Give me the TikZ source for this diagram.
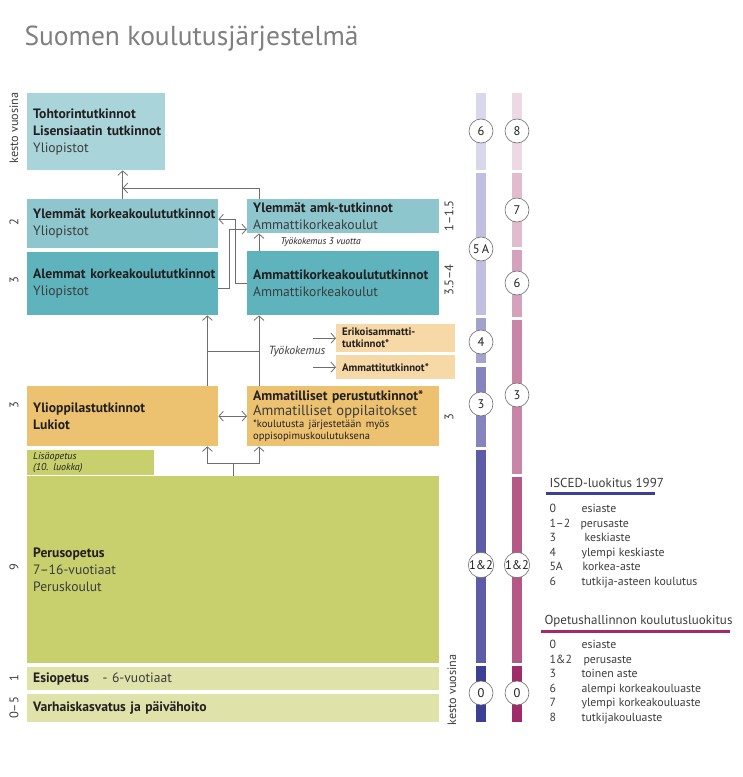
\documentclass[tikz,border=0pt]{standalone}
\usepackage{fontspec}
\setmainfont{PT Sans}
\usetikzlibrary{arrows.meta}
\definecolor{ink}{HTML}{231F20}
\definecolor{inksoft}{HTML}{3C3C3C}
\definecolor{titlegray}{HTML}{7F7F7F}
\definecolor{wire}{HTML}{6E6E6E}
\definecolor{tealL}{HTML}{A9D5DA}
\definecolor{tealM}{HTML}{8DC6CD}
\definecolor{tealD}{HTML}{5EB3BD}
\definecolor{ochreL}{HTML}{F6D9A6}
\definecolor{ochreD}{HTML}{ECC271}
\definecolor{leaf}{HTML}{C8D06E}
\definecolor{leafL}{HTML}{DFE3AA}
\definecolor{isA}{HTML}{D8D7EC}
\definecolor{isB}{HTML}{C0BFDF}
\definecolor{isC}{HTML}{A3A2CD}
\definecolor{isD}{HTML}{8684BE}
\definecolor{isE}{HTML}{5C5CA9}
\definecolor{isF}{HTML}{3B3F96}
\definecolor{opA}{HTML}{EED8E3}
\definecolor{opB}{HTML}{E0BCCD}
\definecolor{opC}{HTML}{D5A2BD}
\definecolor{opD}{HTML}{C885A8}
\definecolor{opE}{HTML}{B55888}
\definecolor{opF}{HTML}{9F2B6B}
\newcommand\bx{\fontsize{13.6}{17}\selectfont}
\newcommand\sm{\fontsize{10.8}{12}\selectfont}
\newcommand\boxhead[1]{\mbox{\bfseries #1}}

\begin{document}
\begin{tikzpicture}[x=1pt,y=-1pt]
        \useasboundingbox (0,0) rectangle (743,777);
        \tikzset{edubox/.style={anchor=north west, inner xsep=6pt, inner ysep=0pt, align=left, text=ink, font=\bx},
                 lvl/.style={circle, draw=wire, fill=white, line width=0.6pt, minimum size=24pt, inner sep=0pt, font=\fontsize{12.5}{12.5}\selectfont, text=ink},
                 dur/.style={rotate=90, font=\fontsize{12.5}{12.5}\selectfont, text=inksoft},
                 arr/.style={draw=wire, line width=0.8pt, -{Straight Barb[length=4.5pt,width=10pt]}},
                 arrs/.style={draw=wire, line width=0.8pt, {Straight Barb[length=4.5pt,width=10pt]}-{Straight Barb[length=4.5pt,width=10pt]}},
                 wireline/.style={draw=wire, line width=0.8pt},
                 key/.style={anchor=base west, font=\fontsize{11.8}{11.8}\selectfont, text=inksoft}}
        %
        \draw (21,45) node[anchor=base west, font=\fontsize{27.5}{27.5}\selectfont, text=titlegray](title){Suomen koulutusjärjestelmä};
        %
        \draw (27,93) node[edubox, fill=tealL, text width=126pt, minimum height=77pt](T){\boxhead{Tohtorintutkinnot}\\\boxhead{Lisensiaatin tutkinnot}\\{\color{inksoft}Yliopistot}};
        \draw (27,199) node[edubox, fill=tealM, text width=179pt, minimum height=49pt](YK){\boxhead{Ylemmät korkeakoulututkinnot}\\{\color{inksoft}Yliopistot}};
        \draw (27,252) node[edubox, fill=tealD, text width=179pt, minimum height=63pt](L){\boxhead{Alemmat korkeakoulututkinnot}\\{\color{inksoft}Yliopistot}};
        \draw (247,199) node[edubox, fill=tealM, text width=180pt, minimum height=34pt](YA){\boxhead{Ylemmät amk-tutkinnot}\\{\color{inksoft}Ammattikorkeakoulut}};
        \draw (247,251) node[edubox, fill=tealD, text width=180pt, minimum height=64pt](A){\boxhead{Ammattikorkeakoulututkinnot}\\{\color{inksoft}Ammattikorkeakoulut}};
        \draw (336,324) node[edubox, fill=ochreL, text width=107pt, minimum height=28pt, font=\sm](E){\boxhead{Erikoisammatti-}\\\boxhead{tutkinnot*}};
        \draw (336,355) node[edubox, fill=ochreL, text width=107pt, minimum height=24pt, font=\sm](M){\boxhead{Ammattitutkinnot*}};
        \draw (27,386) node[edubox, fill=ochreD, text width=179pt, minimum height=60pt](Y){\boxhead{Ylioppilastutkinnot}\\\boxhead{Lukiot}};
        \draw (247,386) node[edubox, fill=ochreD, text width=180pt, minimum height=60pt](AP){{\fontsize{13.6}{15}\selectfont\boxhead{Ammatilliset perustutkinnot*}\\{\color{inksoft}\fontsize{14.5}{16}\selectfont\mbox{Ammatilliset oppilaitokset}}\par}{\fontsize{10.5}{12}\selectfont\mbox{*koulutusta järjestetään myös}\\oppisopimuskoulutuksena\par}};
        \draw (27,450) node[edubox, fill=leaf, text width=115pt, minimum height=25pt, font=\fontsize{10}{10.5}\selectfont\itshape](LO){Lisäopetus\\(10. luokka)};
        \draw (27,476) node[edubox, fill=leaf, text width=400pt, minimum height=187pt](P){\boxhead{Perusopetus}\\{\color{inksoft}7–16-vuotiaat}\\{\color{inksoft}Peruskoulut}};
        \draw (27,667) node[edubox, fill=leafL, text width=400pt, minimum height=23pt](EO){\boxhead{Esiopetus}\quad{\color{inksoft}- 6-vuotiaat}};
        \draw (27,694) node[edubox, fill=leafL, text width=400pt, minimum height=28pt](V){\boxhead{Varhaiskasvatus ja päivähoito}};
        \draw[white, line width=1pt, dash pattern=on 2pt off 2pt] (LO.south west) -- (LO.south east);
        %
        \draw[arr] (YK.north) -- (YK.north |- T.south);
        \draw[arr] ([xshift=12pt]YA.north west) |- ([yshift=11pt]YK.north);
        \draw[arr] (A.west) -- ++(-12,0) |- ([yshift=4.5pt]YK.east);
        \draw[arr] ([yshift=-4.5pt]L.east) -- ++(11,0) |- ([yshift=-13pt]YA.west);
        \draw[arr] ([xshift=12pt]A.north west) -- ([xshift=12pt]YA.south west);
        \draw (277,242) node[anchor=west, font=\fontsize{9.5}{9.5}\selectfont\itshape, text=ink](w3){Työkokemus 3 vuotta};
        %
        \draw[arr] ([xshift=-11pt]Y.north east) -- ([xshift=-11pt]L.south east);
        \draw[arr] ([xshift=12pt]AP.north west) -- ([xshift=12pt]A.south west);
        \draw[wireline] ([xshift=-11pt,yshift=35pt]Y.north east) -- ([xshift=12pt,yshift=35pt]AP.north west);
        \draw (265,352) node[anchor=west, font=\fontsize{11.8}{11.8}\selectfont\itshape, text=inksoft](w){Työkokemus};
        \draw[arr] ([xshift=-23pt]E.west) -- (E.west);
        \draw[arr] ([xshift=-23pt]M.west) -- (M.west);
        \draw[arrs] (Y.east) -- (AP.west);
        \draw[arr] (P.north) -- ++(0,-13) -| ([xshift=-11pt]Y.south east);
        \draw[arr] (P.north) -- ++(0,-13) -| ([xshift=12pt]AP.south west);
        %
        \draw (14,128) node[dur, font=\fontsize{12.2}{12.2}\selectfont](k1){kesto vuosina};
        \draw (14,222) node[dur](d1){2};
        \draw (14,280) node[dur](d2){3};
        \draw (14,405) node[dur](d3){3};
        \draw (14,567) node[dur](d4){9};
        \draw (14,678) node[dur](d5){1};
        \draw (14,708) node[dur](d6){0–5};
        \draw (449,216) node[dur](d7){1–1.5};
        \draw (449,280) node[dur](d8){3.5–4};
        \draw (449,417) node[dur](d9){3};
        \draw (452,690) node[dur, font=\fontsize{12.2}{12.2}\selectfont](k2){kesto vuosina};
        %
        \fill[isA] (476,93) rectangle (486,170);
        \fill[isB] (476,173) rectangle (486,315);
        \fill[isC] (476,318) rectangle (486,363);
        \fill[isD] (476,367) rectangle (486,447);
        \fill[isE] (476,450) rectangle (486,663);
        \fill[isF] (476,666) rectangle (486,722);
        \fill[opA] (512,93) rectangle (522,170);
        \fill[opB] (512,173) rectangle (522,247);
        \fill[opC] (512,250) rectangle (522,317);
        \fill[opD] (512,320) rectangle (522,474);
        \fill[opE] (512,477) rectangle (522,663);
        \fill[opF] (512,666) rectangle (522,722);
        %
        \draw (481,131) node[lvl](i6){6};
        \draw (481,249) node[lvl](i5){5\,A};
        \draw (481,342) node[lvl](i4){4};
        \draw (481,404) node[lvl](i3){3};
        \draw (481,565) node[lvl](i12){1\&2};
        \draw (481,693) node[lvl](i0){0};
        \draw (517,131) node[lvl](o8){8};
        \draw (517,210) node[lvl](o7){7};
        \draw (517,283) node[lvl](o6){6};
        \draw (517,395) node[lvl](o3){3};
        \draw (517,565) node[lvl](o12){1\&2};
        \draw (517,693) node[lvl](o0){0};
        %
        \draw (546,487) node[key, font=\fontsize{13}{13}\selectfont](ih){ISCED-luokitus 1997};
        \draw[isF, line width=3pt] (546,493) -- (655,493);
        \draw (546,512) node[key](in0){0};      \draw (578,512) node[key](it0){esiaste};
        \draw (546,527) node[key](in1){1–2};    \draw (577,527) node[key](it1){perusaste};
        \draw (546,541) node[key](in3){3};      \draw (581,541) node[key](it3){keskiaste};
        \draw (546,556) node[key](in4){4};      \draw (578,556) node[key](it4){ylempi keskiaste};
        \draw (546,570) node[key](in5){5A};     \draw (579,570) node[key](it5){korkea-aste};
        \draw (546,585) node[key](in6){6};      \draw (578,585) node[key](it6){tutkija-asteen koulutus};
        %
        \draw (541,624) node[key, font=\fontsize{13}{13}\selectfont](oh){Opetushallinnon koulutusluokitus};
        \draw[opF, line width=3pt] (541,631) -- (730,631);
        \draw (546,648) node[key](on0){0};      \draw (578,648) node[key](ot0){esiaste};
        \draw (546,663) node[key](on1){1\&2};   \draw (580,663) node[key](ot1){perusaste};
        \draw (546,677) node[key](on3){3};      \draw (578,677) node[key](ot3){toinen aste};
        \draw (546,692) node[key](on6){6};      \draw (578,692) node[key](ot6){alempi korkeakouluaste};
        \draw (546,706) node[key](on7){7};      \draw (578,706) node[key](ot7){ylempi korkeakouluaste};
        \draw (546,721) node[key](on8){8};      \draw (578,721) node[key](ot8){tutkijakouluaste};
    \end{tikzpicture}
\end{document}
